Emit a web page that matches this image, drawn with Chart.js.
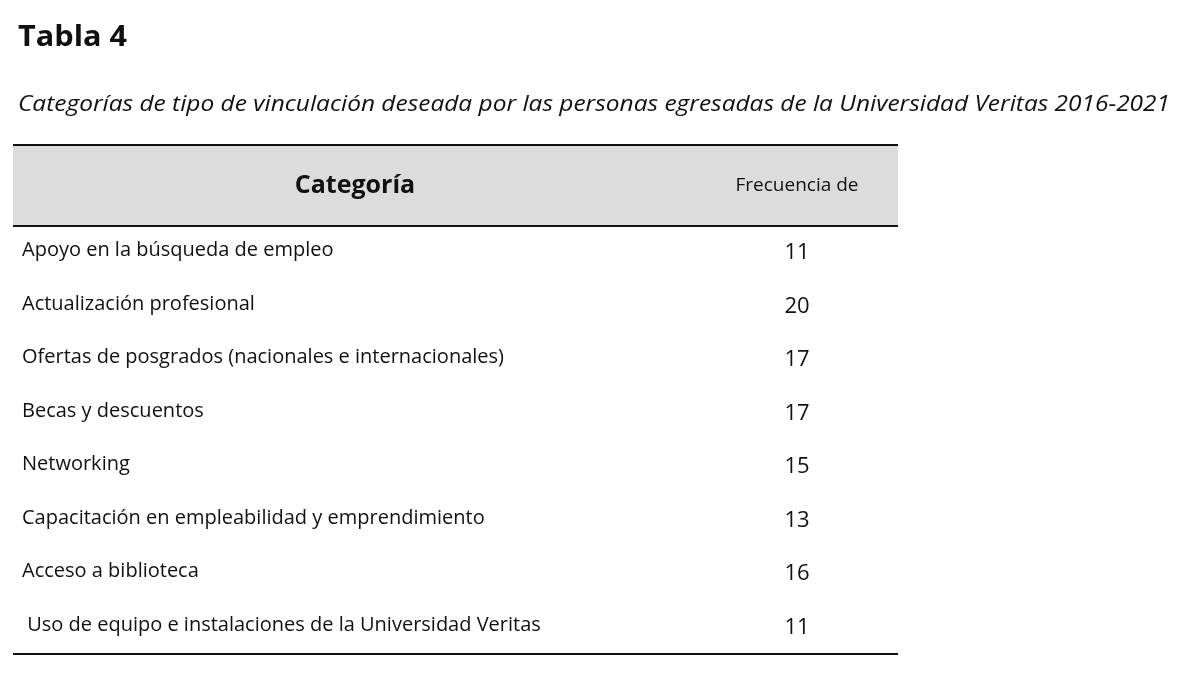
<!DOCTYPE html>
<html><head><meta charset="utf-8">
<script src="https://cdn.jsdelivr.net/npm/chart.js@4"></script>
<style>html,body{margin:0;padding:0;background:#fff}#wrap{width:1192px;height:696px}</style>
</head><body><div id="wrap"><canvas id="c"></canvas></div>
<script>
const titleText = "Tabla 4";
const subtitleText = "Categorías de tipo de vinculación deseada por las personas egresadas de la Universidad Veritas 2016-2021";
const headers = ["Categoría", "Frecuencia de"];
const categories = [
  "Apoyo en la búsqueda de empleo",
  "Actualización profesional",
  "Ofertas de posgrados (nacionales e internacionales)",
  "Becas y descuentos",
  "Networking",
  "Capacitación en empleabilidad y emprendimiento",
  "Acceso a biblioteca",
  " Uso de equipo e instalaciones de la Universidad Veritas"
];
const frequencies = [11, 20, 17, 17, 15, 13, 16, 11];

const FONT = "'Open Sans', Lato, sans-serif";
function fitText(ctx, txt, x, yy, w) {
  const m = ctx.measureText(txt).width;
  ctx.save(); ctx.translate(x, yy); ctx.scale(w / m, 1); ctx.fillText(txt, 0, 0); ctx.restore();
}
const tablePlugin = {
  id: 'tablePlugin',
  beforeDatasetsDraw(chart) {
    const ctx = chart.ctx, a = chart.chartArea, y = chart.scales.y;
    ctx.save();
    ctx.fillStyle = '#111';
    ctx.textBaseline = 'alphabetic';
    ctx.font = "bold 28px " + FONT;
    fitText(ctx, titleText, 18, 46, 109);
    ctx.font = "italic 22px " + FONT;
    fitText(ctx, subtitleText, 18, 111, 1152);
    const hTop = 145;
    ctx.fillStyle = '#dcdcdc';
    ctx.fillRect(a.left, hTop, a.right - a.left, a.top - hTop);
    ctx.strokeStyle = '#111'; ctx.lineWidth = 2;
    [hTop, a.top, a.bottom].forEach(v => { ctx.beginPath(); ctx.moveTo(a.left, v); ctx.lineTo(a.right, v); ctx.stroke(); });
    ctx.fillStyle = '#111';
    ctx.textAlign = 'center'; ctx.textBaseline = 'middle';
    ctx.font = "bold 25px " + FONT;
    ctx.fillText(headers[0], 355, 186);
    ctx.font = "19px " + FONT;
    ctx.fillText(headers[1], 797, 186);
    categories.forEach((c, i) => {
      const py = y.getPixelForValue(i);
      ctx.textAlign = 'left'; ctx.font = "20px " + FONT;
      ctx.fillText(c, 22, py - 2);
      ctx.textAlign = 'center'; ctx.font = "22px " + FONT;
      ctx.fillText(String(frequencies[i]), 797, py);
    });
    ctx.restore();
  }
};

new Chart(document.getElementById('c'), {
  type: 'bar',
  data: { labels: categories, datasets: [{ data: frequencies, backgroundColor: 'rgba(0,0,0,0)', borderWidth: 0 }] },
  options: {
    indexAxis: 'y', responsive: true, maintainAspectRatio: false, animation: false,
    layout: { padding: { top: 226, bottom: 42, left: 13, right: 294 } },
    plugins: { legend: { display: false }, tooltip: { enabled: false } },
    scales: { x: { display: false, min: 0, max: 25 }, y: { display: false } }
  },
  plugins: [tablePlugin]
});
</script></body></html>
